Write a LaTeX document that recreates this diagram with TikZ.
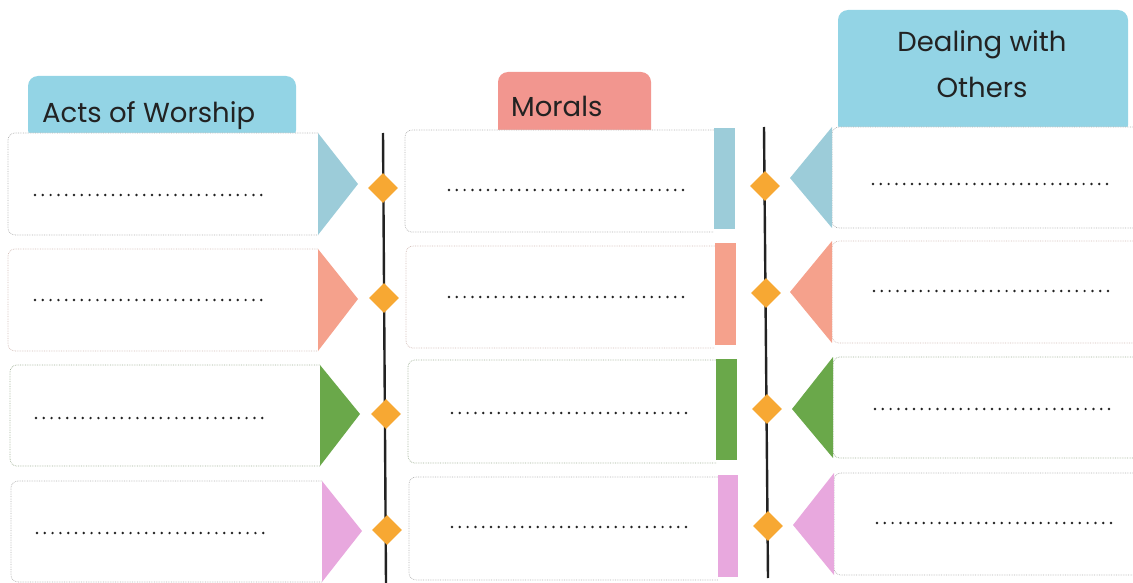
\documentclass[tikz,border=0pt]{standalone}
\usepackage{fontspec}
\setmainfont{Poppins}
\definecolor{headblue}{HTML}{93D4E5}
\definecolor{headred}{HTML}{F2968F}
\definecolor{cblue}{HTML}{9CCCD9}
\definecolor{csalmon}{HTML}{F5A18C}
\definecolor{cgreen}{HTML}{6AA84A}
\definecolor{cpink}{HTML}{E8A8DE}
\definecolor{dorange}{HTML}{F7A833}
\definecolor{ink}{HTML}{222222}
\usetikzlibrary{shapes.geometric}
\begin{document}
\begin{tikzpicture}[x=1pt,y=-1pt,
  card/.style={fill=white, draw=#1, densely dotted, line width=0.7pt, rounded corners=7pt},
  card/.default=gray!60,
  dotrule/.style={line width=2.7pt, line cap=round, dash pattern=on 0pt off 7.8pt, ink},
  diam/.style={shape=diamond, fill=dorange, draw=none, minimum size=30pt, inner sep=0pt},
  head/.style={fill=#1, rounded corners=10pt},
  headtext/.style={font=\fontsize{27.5}{32}\selectfont, text=ink, inner sep=0pt},
  spine/.style={ink, line width=2.4pt}]
\useasboundingbox (0,0) rectangle (1133,583);
% headers
\fill[head=headblue] (28,140) rectangle (296,76);
\node[headtext, anchor=base west] (hwor) at (42,123) {Acts of Worship};
\fill[head=headred] (498,140) rectangle (651,72);
\node[headtext, anchor=base west] (hmor) at (511,117) {Morals};
\fill[head=headblue] (838,135) rectangle (1128,10);
\node[headtext, anchor=base] (hdea1) at (982,52) {Dealing with};
\node[headtext, anchor=base] (hdea2) at (982,98) {Others};
% spines
\coordinate (s1t) at (383,133); \coordinate (s1b) at (386,583);
\coordinate (s2t) at (764,127); \coordinate (s2b) at (768,578);
\draw[spine] (s1t) -- (s1b);
\draw[spine] (s2t) -- (s2b);
% left column cards
\path[card] (318,133) -- (8,133) -- (8,235) -- (318,235);
\fill[cblue] (318,133) -- (358,184) -- (318,235) -- cycle;
\draw[dotrule] (35,195) -- (266,195);
\path[card=csalmon!45!gray!60] (318,249) -- (8,249) -- (8,351) -- (318,351);
\fill[csalmon] (318,249) -- (358,299) -- (318,351) -- cycle;
\draw[dotrule] (35,300) -- (268,300);
\path[card=cgreen!40!gray!70] (320,365) -- (10,365) -- (10,466) -- (320,466);
\fill[cgreen] (320,365) -- (360,414) -- (320,466) -- cycle;
\draw[dotrule] (36,418) -- (268,418);
\path[card] (322,481) -- (11,481) -- (11,582) -- (322,582);
\fill[cpink] (322,481) -- (362,531) -- (322,582) -- cycle;
\draw[dotrule] (37,533) -- (270,533);
% middle column cards
\path[card] (714,130) -- (405,130) -- (405,232) -- (714,232);
\fill[cblue] (714,128) rectangle (735,229);
\draw[dotrule] (449,190) -- (688,190);
\path[card=csalmon!45!gray!60] (715,246) -- (406,246) -- (406,348) -- (715,348);
\fill[csalmon] (715,243) rectangle (736,345);
\draw[dotrule] (449,297) -- (690,297);
\path[card=cgreen!40!gray!70] (716,360) -- (408,360) -- (408,463) -- (716,463);
\fill[cgreen] (716,359) rectangle (737,460);
\draw[dotrule] (452,413) -- (690,413);
\path[card] (718,477) -- (409,477) -- (409,580) -- (718,580);
\fill[cpink] (718,475) rectangle (738,577);
\draw[dotrule] (452,527) -- (692,527);
% right column cards
\path[card] (1136,127) -- (832,127) -- (832,228) -- (1136,228);
\fill[cblue] (832,127) -- (790,178) -- (832,228) -- cycle;
\draw[dotrule] (873,184) -- (1112,184);
\path[card=csalmon!45!gray!60] (1136,241) -- (832,241) -- (832,343) -- (1136,343);
\fill[csalmon] (832,241) -- (790,292) -- (832,343) -- cycle;
\draw[dotrule] (874,291) -- (1113,291);
\path[card=cgreen!40!gray!70] (1136,357) -- (833,357) -- (833,458) -- (1136,458);
\fill[cgreen] (833,357) -- (792,409) -- (833,458) -- cycle;
\draw[dotrule] (875,409) -- (1115,409);
\path[card] (1136,473) -- (834,473) -- (834,575) -- (1136,575);
\fill[cpink] (834,473) -- (793,525) -- (834,575) -- cycle;
\draw[dotrule] (877,523) -- (1116,523);
% diamonds
\node[diam] (d11) at (383,188) {};
\node[diam] (d12) at (384,298) {};
\node[diam] (d13) at (386,414) {};
\node[diam] (d14) at (387,530) {};
\node[diam] (d21) at (765,186) {};
\node[diam] (d22) at (766,293) {};
\node[diam] (d23) at (767,409) {};
\node[diam] (d24) at (768,526) {};
\end{tikzpicture}
\end{document}
